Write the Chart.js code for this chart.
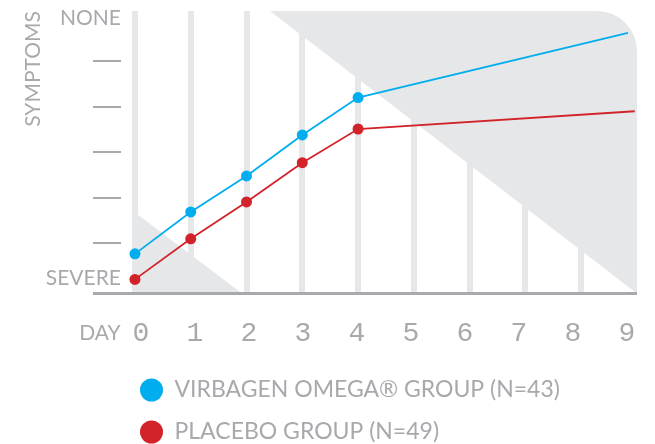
<!DOCTYPE html>
<html>
<head>
<meta charset="utf-8">
<script src="https://cdn.jsdelivr.net/npm/chart.js@4.4.1/dist/chart.umd.min.js"></script>
<style>
  html, body { margin: 0; padding: 0; background: #fff; }
  #wrap { width: 655px; height: 444px; }
</style>
</head>
<body>
<div id="wrap"><canvas id="chart"></canvas></div>
<script>
/* DATA */
const omegaDays   = [0, 1, 2, 3, 4, 8.84];
const omegaScore  = [0.77, 1.69, 2.48, 3.38, 4.20, 5.62];
const placeboDays = [0, 1, 2, 3, 4, 8.96];
const placeboScore = [0.21, 1.10, 1.91, 2.77, 3.51, 3.90];
const dayTicks = [0, 1, 2, 3, 4, 5, 6, 7, 8, 9];
const symptomTicks = [1, 2, 3, 4, 5];
const severeAt = 0.23, noneAt = 5.94;

/* STYLE */
const GREY_TXT = "#a7a9ac";
const GREY_BG = "#e6e7e8";
const BLUE = "#00aeef";
const RED = "#d2232b";
const sans = "Lato, 'Open Sans', sans-serif";
const mono = "'Liberation Mono', 'DejaVu Sans Mono', monospace";

/* grey wedges, in day / score units */
const wedgeTop = { fromDay: 2.42, toDay: 9, radius: 40 };
const wedgeLow = { day: 0, topScore: 1.68, toDay: 1.92 };

const decor = {
  id: "decor",
  beforeDatasetsDraw(chart) {
    const { ctx, chartArea: a, scales: { x, y } } = chart;
    ctx.save();
    ctx.fillStyle = GREY_BG;
    // upper right wedge with rounded corner
    const x0 = x.getPixelForValue(wedgeTop.fromDay);
    const xr = x.getPixelForValue(wedgeTop.toDay);
    ctx.beginPath();
    ctx.moveTo(x0, a.top);
    ctx.arcTo(xr, a.top, xr, a.bottom, wedgeTop.radius);
    ctx.lineTo(xr, a.bottom);
    ctx.closePath();
    ctx.fill();
    // lower left wedge
    ctx.beginPath();
    ctx.moveTo(x.getPixelForValue(wedgeLow.day), y.getPixelForValue(wedgeLow.topScore));
    ctx.lineTo(x.getPixelForValue(wedgeLow.day), a.bottom);
    ctx.lineTo(x.getPixelForValue(wedgeLow.toDay), a.bottom);
    ctx.closePath();
    ctx.fill();
    // base line
    ctx.strokeStyle = GREY_TXT;
    ctx.lineWidth = 3;
    ctx.beginPath();
    ctx.moveTo(a.left - 28, a.bottom);
    ctx.lineTo(a.right, a.bottom);
    ctx.stroke();
    ctx.restore();
  }
};

const pts = (xs, ys) => xs.map((d, i) => ({ x: d, y: ys[i] }));

new Chart(document.getElementById("chart"), {
  type: "line",
  data: {
    datasets: [
      {
        label: "VIRBAGEN OMEGA® GROUP (N=43)",
        data: pts(omegaDays, omegaScore),
        borderColor: BLUE, backgroundColor: BLUE,
        borderWidth: 1.8, pointRadius: [5.5, 5.5, 5.5, 5.5, 5.5, 0],
        pointBorderWidth: 0, pointStyle: "circle", tension: 0
      },
      {
        label: "PLACEBO GROUP (N=49)",
        data: pts(placeboDays, placeboScore),
        borderColor: RED, backgroundColor: RED,
        borderWidth: 1.8, pointRadius: [5.5, 5.5, 5.5, 5.5, 5.5, 0],
        pointBorderWidth: 0, pointStyle: "circle", tension: 0
      }
    ]
  },
  options: {
    responsive: true,
    maintainAspectRatio: false,
    animation: false,
    events: [],
    layout: { padding: { top: 11, left: 0, right: 18, bottom: -9.5 } },
    plugins: {
      tooltip: { enabled: false },
      legend: {
        position: "bottom",
        align: "start",
        fullSize: false,
        labels: {
          usePointStyle: true,
          pointStyle: "circle",
          boxHeight: 16.3,
          pointStyleWidth: 23,
          padding: 19,
          color: GREY_TXT,
          font: { family: sans, size: 23 }
        }
      }
    },
    scales: {
      x: {
        type: "linear",
        min: -0.25, max: 9,
        afterBuildTicks: s => { s.ticks = dayTicks.map(v => ({ value: v })); },
        afterFit: s => { s.height = 0; },
        ticks: { display: false },
        border: { display: false },
        grid: {
          drawTicks: false,
          lineWidth: 6,
          color: c => (c.tick && c.tick.value < 9 ? GREY_BG : "rgba(0,0,0,0)")
        }
      },
      xl: {
        type: "linear",
        position: "bottom",
        min: -0.37, max: 9.185,
        afterBuildTicks: s => { s.ticks = [{ value: -0.759 }].concat(dayTicks.map(v => ({ value: v }))); },
        afterFit: s => { s.height = 66; s.paddingLeft = 0; s.paddingRight = 0; },
        border: { display: false },
        grid: { display: false },
        ticks: {
          autoSkip: false,
          maxRotation: 0,
          padding: 16,
          color: GREY_TXT,
          font: c => (c.tick && c.tick.value < 0
            ? { family: sans, size: 21, lineHeight: "32px" }
            : { family: mono, size: 28, lineHeight: "32px" }),
          callback: v => (v < 0 ? "DAY" : String(v))
        }
      },
      y: {
        type: "linear",
        position: "left",
        min: -0.1, max: 6.1,
        afterBuildTicks: s => {
          s.ticks = [{ value: severeAt }].concat(symptomTicks.map(v => ({ value: v })), [{ value: noneAt }]);
        },
        afterFit: s => { s.width = 121; s.paddingTop = 0; s.paddingBottom = 0; },
        border: { display: false },
        grid: {
          drawOnChartArea: false,
          drawTicks: true,
          tickLength: 28,
          lineWidth: 2,
          color: c => (c.tick && symptomTicks.includes(c.tick.value) ? GREY_TXT : "rgba(0,0,0,0)")
        },
        ticks: {
          padding: -28,
          color: GREY_TXT,
          font: { family: sans, size: 21 },
          callback: v => (v === severeAt ? "SEVERE" : v === noneAt ? "NONE" : "")
        },
        title: {
          display: true,
          text: "SYMPTOMS",
          align: "end",
          color: GREY_TXT,
          font: { family: sans, size: 21 },
          padding: { top: 21, bottom: 0 }
        }
      }
    }
  },
  plugins: [decor]
});
</script>
</body>
</html>
